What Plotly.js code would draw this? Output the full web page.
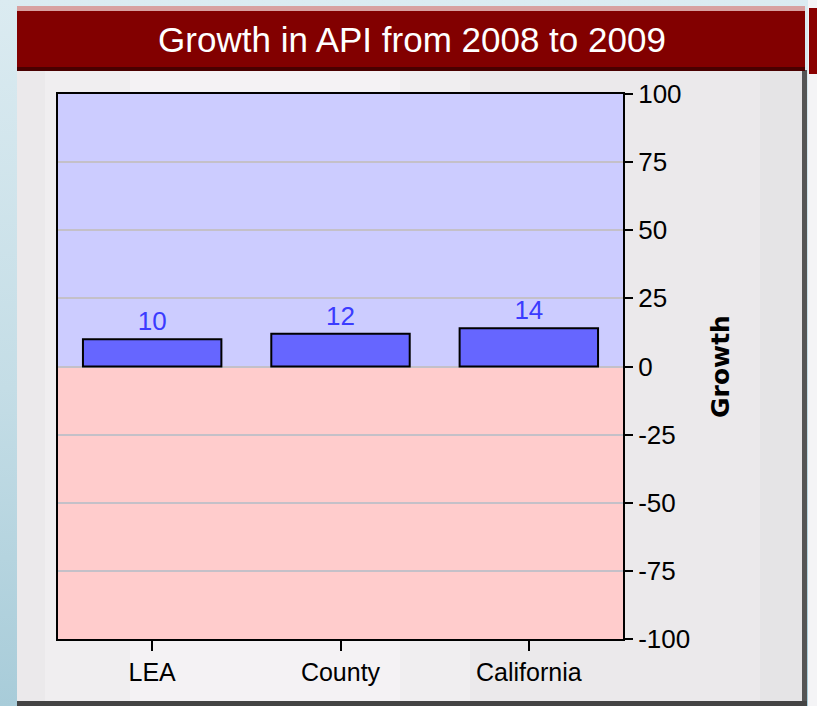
<!DOCTYPE html>
<html>
<head>
<meta charset="utf-8">
<script src="https://cdn.plot.ly/plotly-3.0.1.min.js"></script>
<style>
html,body{margin:0;padding:0;background:linear-gradient(to bottom,#dbebf1 0%,#c4dde6 55%,#a8ccd9 100%);}
#chart{width:817px;height:706px;}
</style>
</head>
<body>
<div id="chart"></div>
<script>
const categories = ["LEA", "County", "California"];
const growth = [10, 12, 14];
const tickVals = [-100, -75, -50, -25, 0, 25, 50, 75, 100];
const tickText = ["-100", "-75", "-50", "-25", "0", "25", "50", "75", "100"];
const titleText = "Growth in API from 2008 to 2009";
const yTitle = "Growth";

const narrow = "Liberation Sans Narrow, Arial Narrow, Liberation Sans, Arial, sans-serif";

// paper helpers (plot area: x 58..623, y 94..639)
const L = 58, R = 623, T = 94, B = 639;
const px = v => (v - L) / (R - L);
const py = v => (B - v) / (B - T);

const shapes = [
  // gray panel
  {type:'rect', xref:'paper', yref:'paper', x0:px(17), x1:px(806), y0:py(703), y1:py(70), fillcolor:'#ebe9eb', line:{width:0}, layer:'below'},
  {type:'rect', xref:'paper', yref:'paper', x0:px(45), x1:px(470), y0:py(703), y1:py(70), fillcolor:'#f0eef0', line:{width:0}, layer:'below'},
  {type:'rect', xref:'paper', yref:'paper', x0:px(130), x1:px(400), y0:py(703), y1:py(70), fillcolor:'#f4f2f4', line:{width:0}, layer:'below'},
  {type:'rect', xref:'paper', yref:'paper', x0:px(760), x1:px(802), y0:py(703), y1:py(70), fillcolor:'#e5e4e6', line:{width:0}, layer:'below'},
  // right border of panel
  {type:'rect', xref:'paper', yref:'paper', x0:px(802), x1:px(807), y0:py(706), y1:py(70), fillcolor:'#555555', line:{width:0}, layer:'below'},
  // bottom dark bar
  {type:'rect', xref:'paper', yref:'paper', x0:px(17), x1:px(807), y0:py(707), y1:py(701), fillcolor:'#444444', line:{width:0}, layer:'below'},
  // right side strip beyond panel
  {type:'rect', xref:'paper', yref:'paper', x0:px(808), x1:px(818), y0:py(707), y1:py(0), fillcolor:'#f4f4f6', line:{width:0}, layer:'below'},
  {type:'rect', xref:'paper', yref:'paper', x0:px(809), x1:px(818), y0:py(74), y1:py(8), fillcolor:'#8a0000', line:{width:0}, layer:'below'},
  // title bar
  {type:'rect', xref:'paper', yref:'paper', x0:px(17), x1:px(805), y0:py(71), y1:py(6), fillcolor:'#820000', line:{width:0}, layer:'below'},
  {type:'rect', xref:'paper', yref:'paper', x0:px(17), x1:px(805), y0:py(11), y1:py(6), fillcolor:'#d8a0a0', line:{width:0}, layer:'below'},
  {type:'rect', xref:'paper', yref:'paper', x0:px(17), x1:px(805), y0:py(71), y1:py(67), fillcolor:'#4a0000', line:{width:0}, layer:'below'},
  // background bands (data coords)
  {type:'rect', xref:'paper', yref:'y', x0:0, x1:1, y0:0, y1:100, fillcolor:'#ccccff', line:{width:0}, layer:'below'},
  {type:'rect', xref:'paper', yref:'y', x0:0, x1:1, y0:-100, y1:0, fillcolor:'#ffcccc', line:{width:0}, layer:'below'}
];

const data = [{
  type: 'bar',
  x: categories,
  y: growth,
  marker: {color: '#6666ff', line: {color: '#000000', width: 2}},
  width: 0.735,
  text: growth.map(String),
  textposition: 'outside',
  cliponaxis: false,
  textfont: {family: narrow, size: 26, color: '#3b3bff'},
  hoverinfo: 'x+y'
}];

const layout = {
  width: 817, height: 706,
  margin: {l: L, r: 817 - R, t: T, b: 706 - B, pad: 0},
  paper_bgcolor: 'rgba(0,0,0,0)',
  plot_bgcolor: 'rgba(0,0,0,0)',
  showlegend: false,
  title: {
    text: titleText,
    font: {family: narrow, size: 35, color: '#ffffff'},
    x: 412 / 817, xanchor: 'center',
    y: 1 - 40 / 706, yanchor: 'middle'
  },
  xaxis: {
    type: 'category',
    showgrid: false,
    ticks: 'outside', ticklen: 10, tickwidth: 2, tickcolor: '#000',
    tickfont: {family: narrow, size: 25, color: '#000'},
    showline: true, linecolor: '#000', linewidth: 2, mirror: true,
    zeroline: false,
    fixedrange: true
  },
  yaxis: {
    side: 'right',
    range: [-100, 100],
    tickvals: tickVals, ticktext: tickText,
    ticks: 'outside', ticklen: 8, tickwidth: 2, tickcolor: '#000',
    tickfont: {family: narrow, size: 26, color: '#000'},
    showgrid: true, gridcolor: '#c4c0c8', gridwidth: 2,
    zeroline: false,
    showline: true, linecolor: '#000', linewidth: 2, mirror: true,
    title: {text: yTitle, font: {family: 'DejaVu Sans, Verdana, sans-serif', size: 25, color: '#000', weight: 'bold'}, standoff: 22},
    fixedrange: true
  },
  shapes: shapes
};

Plotly.newPlot('chart', data, layout, {displayModeBar: false, staticPlot: true});
</script>
</body>
</html>
